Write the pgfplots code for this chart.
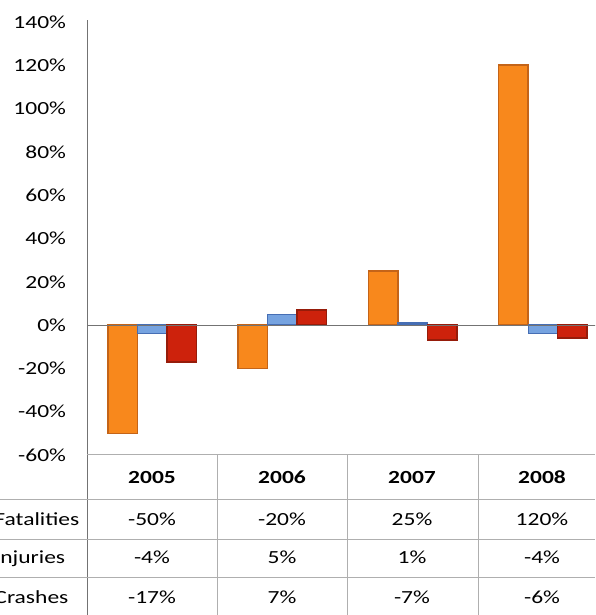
\documentclass[border=0pt]{standalone}
\usepackage{pgfplots}
\pgfplotsset{compat=1.18}
\usepackage{fontspec}
\setmainfont{Carlito}
\definecolor{orF}{RGB}{248,136,28}
\definecolor{orD}{RGB}{196,100,24}
\definecolor{blF}{RGB}{118,163,224}
\definecolor{blD}{RGB}{70,110,180}
\definecolor{rdF}{RGB}{205,34,12}
\definecolor{rdD}{RGB}{150,28,10}
\definecolor{gridc}{RGB}{175,175,175}
\begin{document}
\begin{tikzpicture}[x=1pt,y=1pt]
\clip (0,0) rectangle (595,615);
\begin{axis}[
  at={(87pt,160pt)}, anchor=south west,
  scale only axis, width=521pt, height=433pt,
  xmin=0, xmax=4, ymin=-60, ymax=140,
  ytick={-60,-40,...,140}, xtick=\empty,
  ybar=0pt, bar width=29.5pt,
  axis line style={draw=none},
  major tick length=0pt,
  /pgf/number format/assume math mode=true,
  yticklabel={\pgfmathprintnumber{\tick}\%},
  yticklabel style={font=\fontsize{18.5}{20}\selectfont, xscale=1.27, anchor=east, xshift=-13pt, text=black},
  clip=false,
]
\addplot[fill=orF, draw=orD, line width=1.6pt] coordinates {(0.5,-50) (1.5,-20) (2.5,25) (3.5,120)};
\addplot[fill=blF, draw=blD, line width=1.2pt] coordinates {(0.5,-4) (1.5,5) (2.5,1) (3.5,-4)};
\addplot[fill=rdF, draw=rdD, line width=1.6pt] coordinates {(0.5,-17) (1.5,7) (2.5,-7) (3.5,-6)};
\draw[black!55, line width=0.8pt] (axis cs:0,0) -- (axis cs:4,0);
\end{axis}
\draw[black!55, line width=0.8pt] (87,0) -- (87,595);
% table grid
\draw[gridc, line width=1pt] (87,160) -- (595,160);
\draw[gridc, line width=1pt] (0,115) -- (595,115);
\draw[gridc, line width=1pt] (0,75) -- (595,75);
\draw[gridc, line width=1pt] (0,37) -- (595,37);
\foreach \xx in {217,347,478} \draw[gridc, line width=1pt] (\xx,160) -- (\xx,0);
\begin{scope}[every node/.style={font=\fontsize{18.5}{20}\selectfont, xscale=1.27, text=black, anchor=base}]
\foreach \yr [count=\i] in {2005,2006,2007,2008}
  \node[font=\fontsize{18.5}{20}\selectfont\bfseries] at ({87+130*(\i-0.5)},131) {\yr};
\node[anchor=base west] at (-10,89) {Fatalities};
\node[anchor=base west] at (-10,51) {Injuries};
\node[anchor=base west] at (-10,12) {Crashes};
\foreach \v [count=\i] in {-50\%,-20\%,25\%,120\%}
  \node at ({87+130*(\i-0.5)},89) {\v};
\foreach \v [count=\i] in {-4\%,5\%,1\%,-4\%}
  \node at ({87+130*(\i-0.5)},51) {\v};
\foreach \v [count=\i] in {-17\%,7\%,-7\%,-6\%}
  \node at ({87+130*(\i-0.5)},12) {\v};
\end{scope}
\end{tikzpicture}
\end{document}
